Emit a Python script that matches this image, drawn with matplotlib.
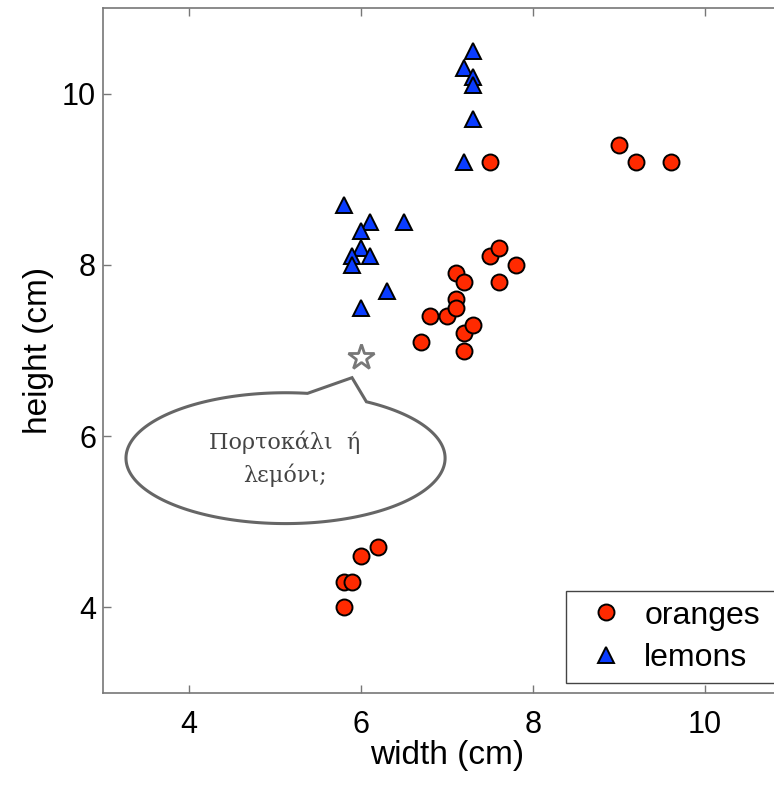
import numpy as np
import matplotlib
matplotlib.use('Agg')
import matplotlib.pyplot as plt
from matplotlib.patches import Polygon

# oranges
orange_w = [5.8, 5.8, 5.9, 6.0, 6.2, 6.7, 6.8, 7.0, 7.1, 7.1, 7.1, 7.2, 7.2, 7.2, 7.3,
            7.5, 7.6, 7.6, 7.8, 7.5, 9.0, 9.2, 9.6]
orange_h = [4.0, 4.3, 4.3, 4.6, 4.7, 7.1, 7.4, 7.4, 7.6, 7.5, 7.9, 7.8, 7.2, 7.0, 7.3,
            8.1, 8.2, 7.8, 8.0, 9.2, 9.4, 9.2, 9.2]
# lemons
lemon_w = [7.3, 7.2, 7.3, 7.3, 7.3, 7.2, 5.8, 6.1, 6.5, 6.0, 6.0, 5.9, 6.1, 5.9, 6.3, 6.0]
lemon_h = [10.5, 10.3, 10.2, 10.1, 9.7, 9.2, 8.7, 8.5, 8.5, 8.4, 8.2, 8.1, 8.1, 8.0, 7.7, 7.5]
# unknown fruit
query_w, query_h = 6.0, 6.92

ticks = [4, 6, 8, 10]
GRAY = '#777777'

plt.rcParams['font.family'] = ['Liberation Sans', 'DejaVu Sans']

fig = plt.figure(figsize=(7.74, 7.87), dpi=100)
ax = fig.add_axes([0.1331, 0.1194, 0.889, 0.8704])

ax.plot(orange_w, orange_h, 'o', ms=11.5, mfc='#ff2a00', mec='black', mew=1.4, label='oranges')
ax.plot(lemon_w, lemon_h, '^', ms=12, mfc='#0a3cff', mec='black', mew=1.4, label='lemons')
ax.plot([query_w], [query_h], '*', ms=19, mfc='white', mec=GRAY, mew=2, zorder=5)

# speech bubble
cx, cy, a, b = 5.122, 5.743, 1.855, 0.764
base_l = (5.372, 6.484)
base_r = (6.047, 6.391)
tip = (5.895, 6.683)
t1 = np.arctan2((base_l[1] - cy) / b, (base_l[0] - cx) / a)
t2 = np.arctan2((base_r[1] - cy) / b, (base_r[0] - cx) / a) + 2 * np.pi
t = np.linspace(t1, t2, 300)
pts = np.column_stack([cx + a * np.cos(t), cy + b * np.sin(t)])
pts = np.vstack([pts, tip])
ax.add_patch(Polygon(pts, closed=True, fc='white', ec='#666666', lw=2.2, zorder=4))
ax.text(5.116, 5.74, 'Πορτοκάλι  ή\nλεμόνι;', family='DejaVu Serif', fontsize=16,
        color='#444444', ha='center', va='center', multialignment='center',
        linespacing=1.5, zorder=6)

ax.set_xlim(3, 11)
ax.set_ylim(3, 11)
ax.set_xticks(ticks)
ax.set_yticks(ticks)
ax.tick_params(direction='in', top=True, right=True, length=6, width=1, color=GRAY,
               labelsize=22)
ax.tick_params(axis='x', pad=12)
ax.tick_params(axis='y', pad=5)
for s in ax.spines.values():
    s.set_color(GRAY)
    s.set_linewidth(1.2)

ax.set_xlabel('width (cm)', fontsize=24, labelpad=0)
ax.set_ylabel('height (cm)', fontsize=24, labelpad=6)

leg = ax.legend(loc='lower left', bbox_to_anchor=(0.673, 0.0146, 0.33, 0.13), mode='expand',
                borderaxespad=0, fontsize=23, fancybox=False, edgecolor='#444444',
                framealpha=1, handletextpad=0.25, borderpad=0.3, labelspacing=0.4,
                handlelength=1.9)
leg.get_frame().set_linewidth(1.0)

fig.savefig('out.png', dpi=100)
